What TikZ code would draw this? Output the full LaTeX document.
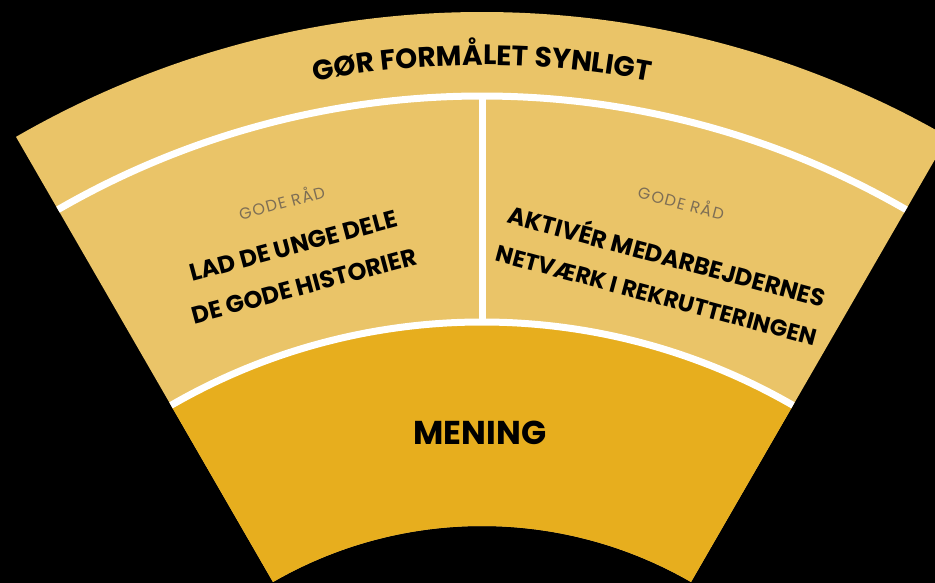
\documentclass[tikz,border=0pt]{standalone}
\usepackage{fontspec}
\setmainfont{Poppins}
\usetikzlibrary{decorations.text}
\definecolor{panel}{HTML}{EAC468}
\definecolor{core}{HTML}{E7AE1E}
\definecolor{hint}{HTML}{7D6E55}
\newcommand{\tipfont}{\mdseries\color{hint}\fontsize{16}{16}\selectfont\addfontfeature{LetterSpace=8}}

\begin{document}
\begin{tikzpicture}[x=1pt,y=1pt,
divider/.style={white,line width=7pt},
advice/.style={inner sep=0pt,align=center,font=\bfseries\fontsize{24}{41.5}\selectfont}]
\fill[black] (0,0) rectangle (935,583);
\clip (0,0) rectangle (935,583);
\coordinate (apex) at (482,-361);
% fan and its core
\fill[panel] ([shift={(120:932pt)}]apex) arc[start angle=120,end angle=60,radius=932pt]
    -- ([shift={(60:418pt)}]apex) arc[start angle=60,end angle=120,radius=418pt] -- cycle;
\fill[core] ([shift={(120:622pt)}]apex) arc[start angle=120,end angle=60,radius=622pt]
    -- ([shift={(60:418pt)}]apex) arc[start angle=60,end angle=120,radius=418pt] -- cycle;
% white dividers
\coordinate (splitlow) at ([shift={(90:622pt)}]apex);
\coordinate (splithigh) at ([shift={(90:848pt)}]apex);
\draw[divider] ([shift={(120:848pt)}]apex) arc[start angle=120,end angle=60,radius=848pt];
\draw[divider] ([shift={(120:622pt)}]apex) arc[start angle=120,end angle=60,radius=622pt];
\draw[divider] (splitlow) -- (splithigh);
% title along the outer band
\path[decorate,decoration={text along path,text align=center,
    text={|\bfseries\fontsize{28}{28}\selectfont|GØR FORMÅLET SYNLIGT}}]
    ([shift={(120:879pt)}]apex) arc[start angle=120,end angle=60,radius=879pt];

\node (adviceleft) [advice,rotate=15] at (293,339)
    {{\tipfont GODE RÅD}\\[5.5pt] LAD DE UNGE DELE\\ DE GODE HISTORIER};
\node (adviceright) [advice,rotate=-15,font=\bfseries\fontsize{24}{39.5}\selectfont] at (669,334)
    {{\tipfont GODE RÅD}\\[18.5pt] AKTIVÉR MEDARBEJDERNES\\
    {\fontsize{23}{39.5}\selectfont NETVÆRK I REKRUTTERINGEN}};

\node (meaning) [font=\bfseries\fontsize{33}{33}\selectfont] at (480,150) {MENING};
\end{tikzpicture}
\end{document}
